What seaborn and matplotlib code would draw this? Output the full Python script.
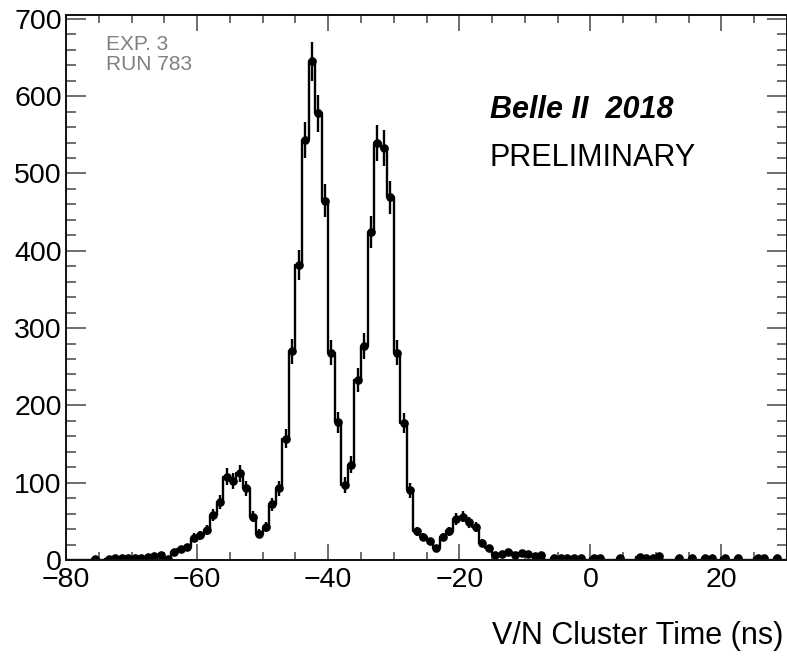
import numpy as np
import pandas as pd
import seaborn as sns
import matplotlib
matplotlib.use("Agg")
import matplotlib.pyplot as plt
from matplotlib.ticker import MultipleLocator

### DATA ###
# histogram range and binning (1 ns bins from -80 to 30 ns)
x_lo = -80
x_hi = 30
bin_width = 1.0

# entries per bin, left to right
counts = [
    0, 0, 0, 0, 1, 0, 1, 2, 3, 2,          # -80 .. -70
    2, 3, 4, 5, 7, 1, 10, 14, 17, 29,      # -70 .. -60
    32, 39, 58, 75, 108, 102, 112, 93, 56, 34,   # -60 .. -50
    43, 72, 93, 157, 270, 382, 543, 645, 578, 465,  # -50 .. -40
    268, 178, 97, 123, 233, 277, 424, 540, 533, 469,  # -40 .. -30
    268, 177, 90, 37, 30, 24, 15, 30, 37, 53,  # -30 .. -20
    56, 49, 43, 22, 15, 6, 8, 10, 7, 9,    # -20 .. -10
    8, 5, 6, 0, 2, 2, 3, 2, 3, 0,          # -10 .. 0
    3, 2, 0, 0, 2, 0, 0, 4, 2, 2,          # 0 .. 10
    5, 0, 0, 2, 0, 3, 0, 2, 2, 0,          # 10 .. 20
    3, 0, 2, 0, 0, 2, 2, 0, 2, 0,          # 20 .. 30
]

x_label = "V/N Cluster Time (ns)"
run_info = ["EXP. 3", "RUN 783"]
title_text = "Belle II  2018"
status_text = "PRELIMINARY"

### SETUP ###
edges = np.arange(x_lo, x_hi + bin_width / 2, bin_width)
centers = 0.5 * (edges[:-1] + edges[1:])
df = pd.DataFrame({"time": centers, "n": counts})
df["err"] = np.sqrt(df["n"])
filled = df.loc[df["n"] > 0]

sns.set_style("ticks")
plt.rcParams["font.family"] = ["Liberation Sans", "DejaVu Sans"]
plt.rcParams["text.color"] = "black"

W, H = 787, 656
fig = plt.figure(figsize=(W / 100, H / 100), dpi=100)
ax = fig.add_axes([66 / W, 1 - 560 / H, (W - 66) / W, (560 - 15) / H])

### GRAPHICS ###
sns.histplot(data=df, x="time", weights="n", bins=edges.tolist(), element="step",
             fill=False, color="black", linewidth=1.7, ax=ax)
ax.errorbar(filled["time"], filled["n"], yerr=filled["err"], fmt="o",
            color="black", ms=5.2, elinewidth=1.7, capsize=0)

ax.set_xlim(x_lo, x_hi)
ax.set_ylim(0, 705)
ax.set_xlabel("")
ax.set_ylabel("")

ax.xaxis.set_major_locator(MultipleLocator(20))
ax.xaxis.set_minor_locator(MultipleLocator(5))
ax.yaxis.set_major_locator(MultipleLocator(100))
ax.yaxis.set_minor_locator(MultipleLocator(20))

ax.tick_params(which="both", direction="in", top=True, right=True,
               color="#555555", width=1.2, labelsize=20.5, labelcolor="black")
ax.tick_params(axis="x", which="major", length=11.5, pad=5)
ax.tick_params(axis="x", which="minor", length=5.8)
ax.tick_params(axis="y", which="major", length=14.4, pad=3)
ax.tick_params(axis="y", which="minor", length=7.5)
for s in ax.spines.values():
    s.set_linewidth(1.4)
    s.set_color("#111111")

fig.text(783 / W, 1 - 644 / H, x_label, ha="right", va="baseline",
         fontsize=22, color="black")
fig.text(106 / W, 1 - 50 / H, run_info[0], ha="left", va="baseline",
         fontsize=15, color="#808080")
fig.text(106 / W, 1 - 70 / H, run_info[1], ha="left", va="baseline",
         fontsize=15, color="#808080")
fig.text(490 / W, 1 - 118 / H, title_text, ha="left", va="baseline",
         fontsize=22, fontweight="bold", fontstyle="italic", color="black")
fig.text(490 / W, 1 - 166 / H, status_text, ha="left", va="baseline",
         fontsize=22, color="black")

fig.savefig("out.png", dpi=100)
